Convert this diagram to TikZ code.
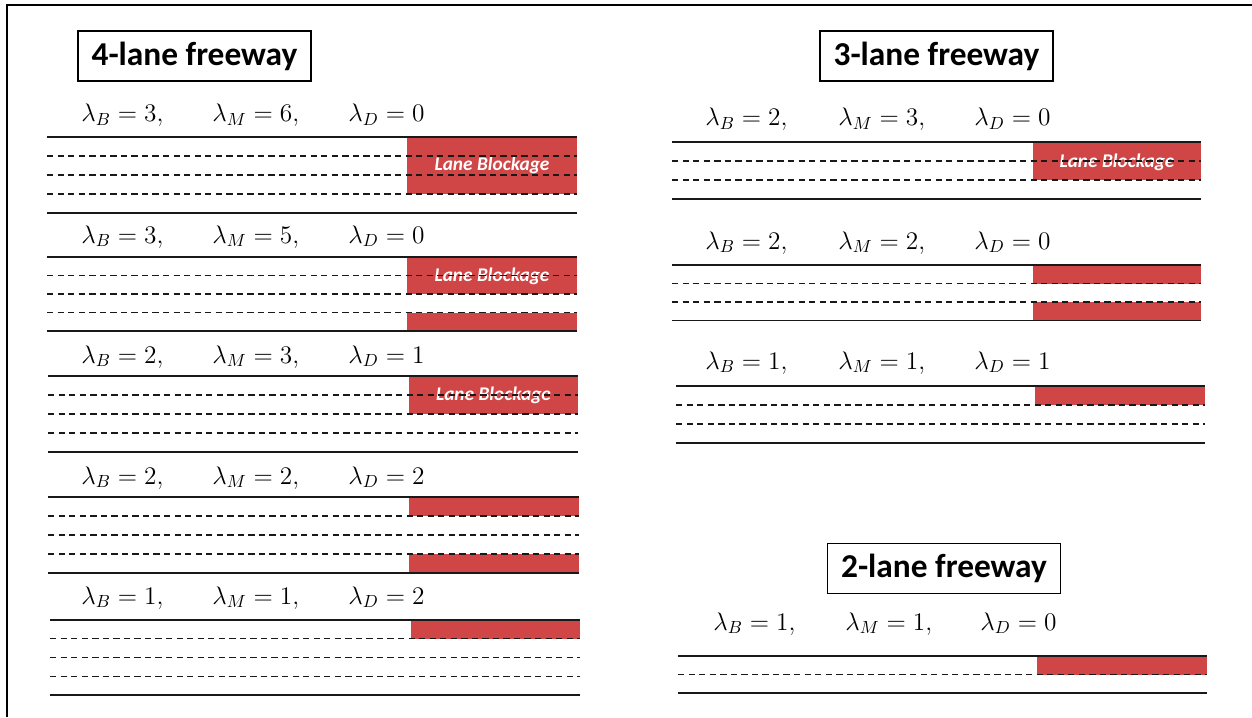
\documentclass[tikz,border=0pt]{standalone}
\usepackage[no-math]{fontspec}
\setmainfont{Carlito}

\definecolor{blockred}{RGB}{208,70,70}

\tikzset{
    lanesolid/.style={line width=0.8pt, black!90},
    lanedash/.style={line width=0.6pt, black!90, dash pattern=on 3.6pt off 2.4pt},
    blockfill/.style={fill=blockred},
    titlebox/.style={draw, line width=0.6pt, inner sep=0pt,
        minimum width=4.66cm, minimum height=1cm,
        font=\fontsize{19}{22}\selectfont\bfseries},
    ratelabel/.style={anchor=base west, inner sep=0pt,
        font=\fontsize{14}{16}\selectfont},
    blocktext/.style={text=white, inner sep=0pt,
        font=\fontsize{11}{13}\selectfont\bfseries\itshape}
}

\begin{document}
\begin{tikzpicture}[x=0.2mm, y=-0.2mm]
    \useasboundingbox (0,0) rectangle (1252,717);

    % page frame (open at right and bottom)
    \draw[line width=0.8pt] (7,717) -- (7,5) -- (1252,5);

    % ---------------- 4-lane freeway ----------------
    \node[titlebox] (title4) at (194.5,56) {4-lane freeway};

    \fill[blockfill] (407,137) rectangle (577,194);
    \node[blocktext] (block4a) at (492,165.5) {Lane Blockage};

    \fill[blockfill] (407,257) rectangle (577,294);
    \node[blocktext] (block4b) at (492,276) {Lane Blockage};
    \fill[blockfill] (407,313) rectangle (577,331);

    \fill[blockfill] (409,376) rectangle (578,414);
    \node[blocktext] (block4c) at (493.5,395) {Lane Blockage};

    \fill[blockfill] (409,497) rectangle (579,516);
    \fill[blockfill] (409,554) rectangle (579,573);

    \fill[blockfill] (411,620) rectangle (580,638.5);

    \foreach \y/\xa/\xb/\w in {
        137/47/577/19,
        257/47/577/18.5,
        376/48/578/19,
        497/48/579/19,
        620/50/580/18.75
    }{
        \draw[lanesolid] (\xa,\y) -- (\xb,\y);
        \foreach \k in {1,2,3}
            \draw[lanedash] (\xa,\y+\k*\w) -- (\xb,\y+\k*\w);
        \draw[lanesolid] (\xa,\y+4*\w) -- (\xb,\y+4*\w);
    }

    \foreach \y/\lb/\lm/\ld [count=\i] in {
        122/3/6/0,
        243/3/5/0,
        363/2/3/1,
        484/2/2/2,
        604/1/1/2
    }{
        \node[ratelabel] (rate4b-\i) at (81,\y) {$\lambda_B = \lb,$};
        \node[ratelabel] (rate4m-\i) at (212,\y) {$\lambda_M = \lm,$};
        \node[ratelabel] (rate4d-\i) at (348,\y) {$\lambda_D = \ld$};
    }

    % ---------------- 3-lane freeway ----------------
    \node[titlebox] (title3) at (936.5,56) {3-lane freeway};

    \fill[blockfill] (1033,142) rectangle (1201,180);
    \node[blocktext] (block3a) at (1117,162) {Lane Blockage};

    \fill[blockfill] (1033,265) rectangle (1201,283.5);
    \fill[blockfill] (1033,302) rectangle (1201,320.5);

    \fill[blockfill] (1035,386) rectangle (1205,405);

    \foreach \y/\xa/\xb/\w in {
        142/672/1201/19,
        265/672/1201/18.5,
        386/676/1205/19
    }{
        \draw[lanesolid] (\xa,\y) -- (\xb,\y);
        \foreach \k in {1,2}
            \draw[lanedash] (\xa,\y+\k*\w) -- (\xb,\y+\k*\w);
        \draw[lanesolid] (\xa,\y+3*\w) -- (\xb,\y+3*\w);
    }

    \foreach \y/\lb/\lm/\ld [count=\i] in {
        126/2/3/0,
        249/2/2/0,
        369/1/1/1
    }{
        \node[ratelabel] (rate3b-\i) at (705,\y) {$\lambda_B = \lb,$};
        \node[ratelabel] (rate3m-\i) at (838,\y) {$\lambda_M = \lm,$};
        \node[ratelabel] (rate3d-\i) at (974,\y) {$\lambda_D = \ld$};
    }

    % ---------------- 2-lane freeway ----------------
    \node[titlebox] (title2) at (944,568.5) {2-lane freeway};

    \fill[blockfill] (1037,656) rectangle (1207,674.5);

    \draw[lanesolid] (678,656) -- (1207,656);
    \draw[lanedash] (678,674.5) -- (1207,674.5);
    \draw[lanesolid] (678,693) -- (1207,693);

    \node[ratelabel] (rate2b) at (713,630) {$\lambda_B = 1,$};
    \node[ratelabel] (rate2m) at (845,630) {$\lambda_M = 1,$};
    \node[ratelabel] (rate2d) at (980,630) {$\lambda_D = 0$};
\end{tikzpicture}
\end{document}
